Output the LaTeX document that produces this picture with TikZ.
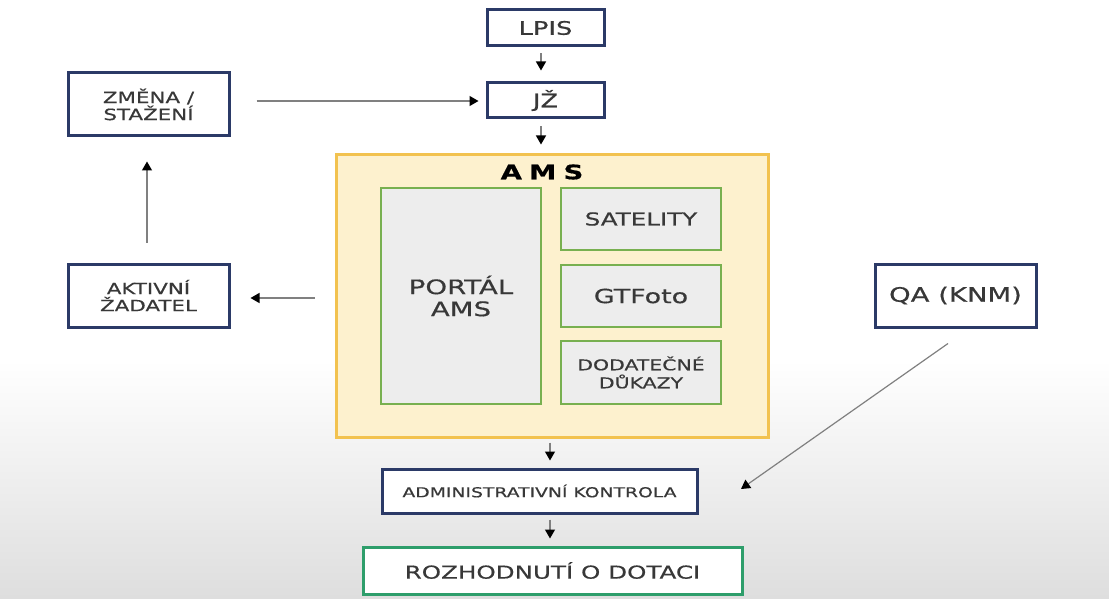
\documentclass[tikz,border=0pt]{standalone}
\usepackage{fontspec}
\setmainfont{DejaVu Sans}[FakeStretch=1.38,FakeBold=0.5]
\usetikzlibrary{arrows.meta}
\definecolor{navy}{HTML}{2B3A67}
\definecolor{txt}{HTML}{383838}
\definecolor{amsfill}{HTML}{FDF1CE}
\definecolor{amsline}{HTML}{F2C24F}
\definecolor{inline}{HTML}{78B050}
\definecolor{infill}{HTML}{EDEDED}
\definecolor{decline}{HTML}{2E9E6B}
\definecolor{conn}{HTML}{808080}
\tikzset{
  navybox/.style={draw=navy, line width=3pt, fill=white, text=txt, align=center, inner sep=0pt},
  greenbox/.style={draw=inline, line width=2.8pt, fill=infill, text=txt, align=center, inner sep=0pt},
  arr/.style={draw=conn, line width=1.2pt, -{Triangle[length=9pt,width=10pt,color=black]}},
}
\begin{document}
\begin{tikzpicture}[x=1pt,y=-1pt]
\fill[white] (0,0) rectangle (1109,360);
\shade[top color=white, bottom color=black!13] (0,360) rectangle (1109,599);
\useasboundingbox (0,0) rectangle (1109,599);

% top boxes
\node[navybox, minimum width=117pt, minimum height=36pt, font=\fontsize{18.6}{20}\selectfont] (lpis) at (545.5,28) {LPIS};
\node[navybox, minimum width=117pt, minimum height=35pt, font=\fontsize{18.6}{20}\selectfont] (jz) at (545.5,100.5) {JŽ};
\node[navybox, minimum width=161pt, minimum height=63pt, font=\fontsize{15.5}{17}\selectfont] (zmena) at (148.5,104.5) {ZMĚNA /\\STAŽENÍ};
\node[navybox, minimum width=161pt, minimum height=63pt, font=\fontsize{15.5}{17}\selectfont] (aktiv) at (148.5,295.5) {AKTIVNÍ\\ŽADATEL};
\node[navybox, minimum width=161pt, minimum height=63pt, font=\fontsize{19.9}{22}\selectfont] (qa) at (955.5,295.5) {QA (KNM)};

% AMS
\node[draw=amsline, fill=amsfill, line width=3pt, minimum width=432pt, minimum height=282pt, inner sep=0pt] (ams) at (552,296) {};
\node[font=\bfseries\fontsize{20}{22}\selectfont, text=black] (amstitle) at (542,172) {A\hspace{7pt}M\hspace{7pt}S};
\node[greenbox, minimum width=160pt, minimum height=216pt, font=\fontsize{20}{22}\selectfont] (portal) at (461,296) {PORTÁL\\AMS};
\node[greenbox, minimum width=160pt, minimum height=62pt, font=\fontsize{17.8}{20}\selectfont] (sat) at (641,219) {SATELITY};
\node[greenbox, minimum width=160pt, minimum height=62pt, font=\fontsize{19.5}{21}\selectfont] (gt) at (641,296) {GTFoto};
\node[greenbox, minimum width=160pt, minimum height=63pt, font=\fontsize{14.8}{18}\selectfont] (dod) at (641,372.5) {DODATEČNÉ\\DŮKAZY};

% bottom
\node[navybox, minimum width=315pt, minimum height=44pt, font=\fontsize{13.6}{15}\selectfont] (admin) at (539.5,491) {ADMINISTRATIVNÍ KONTROLA};
\node[draw=decline, line width=3pt, fill=white, text=txt, minimum width=379pt, minimum height=47pt, inner sep=0pt, font=\fontsize{17.8}{20}\selectfont] (rozh) at (552.5,570.5) {ROZHODNUTÍ O DOTACI};

% connectors
\draw[arr, shorten <=6pt, shorten >=11pt] ([xshift=-4.5pt]lpis.south) -- ([xshift=-4.5pt]jz.north);
\draw[arr, shorten <=7pt, shorten >=9pt] ([xshift=-4.5pt]jz.south) -- ([xshift=-4.5pt]jz.south |- ams.north);
\draw[arr, shorten <=26pt, shorten >=7pt] ([yshift=3.5pt]zmena.east) -- ([yshift=3.5pt]zmena.east -| jz.west);
\draw[arr, shorten <=20pt, shorten >=24pt] ([xshift=-1.5pt]aktiv.north) -- ([xshift=-1.5pt]zmena.south);
\draw[arr, shorten <=20pt, shorten >=20pt] ([yshift=-2.5pt]aktiv.east -| ams.west) -- ([yshift=-2.5pt]aktiv.east);
\draw[arr, shorten <=4pt, shorten >=7pt] ([xshift=-2pt]ams.south) -- ([xshift=-2pt]ams.south |- admin.north);
\draw[arr, shorten <=5pt, shorten >=7pt] ([xshift=10.5pt]admin.south) -- ([xshift=10.5pt]admin.south |- rozh.north);
\coordinate (qaend) at (741,489);
\draw[arr] ([xshift=-7.5pt,yshift=-15pt]qa.south) -- (qaend);
\end{tikzpicture}
\end{document}
